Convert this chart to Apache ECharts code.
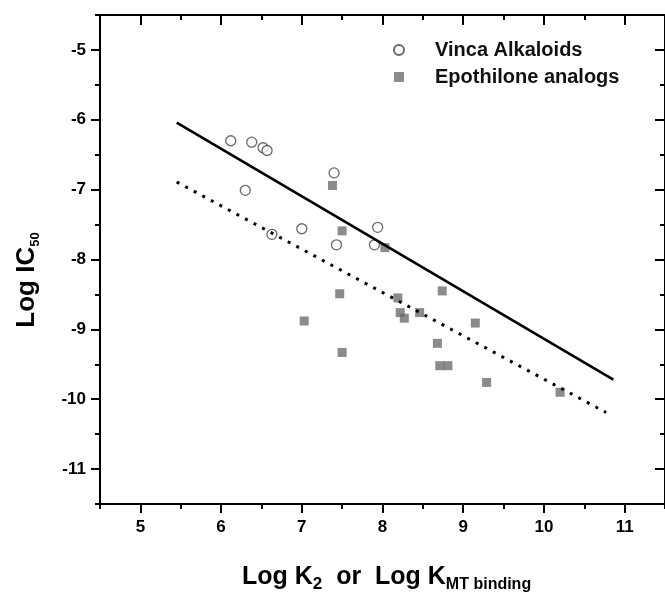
<!DOCTYPE html>
<html>
<head>
<meta charset="utf-8">
<script src="https://cdn.jsdelivr.net/npm/echarts@6/dist/echarts.min.js"></script>
<style>
html,body{margin:0;padding:0;background:#fff;}
#chart{width:665px;height:594px;}
</style>
</head>
<body>
<div id="chart"></div>
<script>
// ---- data ----
var vincaPoints = [
  [6.12,-6.30],[6.38,-6.32],[6.52,-6.40],[6.57,-6.44],[7.40,-6.76],
  [6.30,-7.01],[6.63,-7.64],[7.00,-7.56],[7.43,-7.79],[7.94,-7.54],[7.90,-7.79]
];
var epoPoints = [
  [7.38,-6.94],[7.50,-7.59],[8.03,-7.83],[7.47,-8.49],[8.19,-8.55],[8.74,-8.45],
  [7.03,-8.88],[7.50,-9.33],[8.22,-8.76],[8.27,-8.84],[8.46,-8.76],[9.15,-8.91],
  [8.68,-9.20],[8.71,-9.52],[8.81,-9.52],[9.29,-9.76],[10.20,-9.90]
];
var solidFit = [[5.45,-6.04],[10.86,-9.72]];
var dottedFit = [[5.45,-6.89],[10.77,-10.19]];
var xTickValues = [5,6,7,8,9,10,11];
var xMinorValues = [4.5,5.5,6.5,7.5,8.5,9.5,10.5,11.5];
var yTickValues = [-5,-6,-7,-8,-9,-10,-11];
var yMinorValues = [-4.5,-5.5,-6.5,-7.5,-8.5,-9.5,-10.5,-11.5];
var xRange = [4.5, 11.5];
var yRange = [-11.5, -4.5];
var seriesNames = ['Vinca Alkaloids','Epothilone analogs'];

var FONT = '"Liberation Sans", Arial, Helvetica, sans-serif';
var line = {show:true, onZero:false, lineStyle:{color:'#000', width:2}};

function xAx(pos, major, labels, inside) {
  return {
    type:'value', position:pos, min:xRange[0], max:xRange[1],
    axisLine: major ? line : {show:false},
    splitLine:{show:false},
    axisTick:{show:true, inside:inside, length: major?(inside?10:9):5, customValues: major?xTickValues:xMinorValues,
      lineStyle:{color:'#000', width:2}},
    axisLabel: labels ? {show:true, customValues:xTickValues, margin:15, color:'#000',
      fontFamily:FONT, fontWeight:'bold', fontSize:17} : {show:false}
  };
}
function yAx(pos, major, labels, inside) {
  return {
    type:'value', position:pos, min:yRange[0], max:yRange[1],
    axisLine: major ? line : {show:false},
    splitLine:{show:false},
    axisTick:{show:true, inside:inside, length: major?(inside?10:9):5, customValues: major?yTickValues:yMinorValues,
      lineStyle:{color:'#000', width:2}},
    axisLabel: labels ? {show:true, customValues:yTickValues, margin:14, color:'#000',
      fontFamily:FONT, fontWeight:'bold', fontSize:17} : {show:false}
  };
}

var chart = echarts.init(document.getElementById('chart'), null, {renderer:'canvas'});
chart.setOption({
  animation:false,
  backgroundColor:'#fff',
  grid:{left:100, top:15, width:570, height:489, containLabel:false},
  xAxis:[ xAx('bottom',true,true,false), xAx('bottom',false,false,false),
          xAx('top',true,false,true), xAx('top',false,false,true) ],
  yAxis:[ yAx('left',true,true,false), yAx('left',false,false,false),
          yAx('right',true,false,true), yAx('right',false,false,true) ],
  legend:{
    orient:'vertical', left:388, top:35, itemWidth:10, itemHeight:10, itemGap:7,
    data:seriesNames,
    textStyle:{fontFamily:FONT, fontSize:20, fontWeight:'bold', color:'#111', lineHeight:20, padding:[0,0,0,26]}
  },
  series:[
    {type:'line', data:solidFit, xAxisIndex:0, yAxisIndex:0, symbol:'none', silent:true,
      lineStyle:{color:'#000', width:2.6}},
    {type:'line', data:dottedFit, xAxisIndex:0, yAxisIndex:0, symbol:'none', silent:true,
      lineStyle:{color:'#000', width:3, type:[3,6.7]}},
    {name:seriesNames[0], type:'scatter', data:vincaPoints, xAxisIndex:0, yAxisIndex:0,
      symbol:'circle', symbolSize:10,
      itemStyle:{color:'#fff', borderColor:'#444', borderWidth:1.3}},
    {name:seriesNames[1], type:'scatter', data:epoPoints, xAxisIndex:0, yAxisIndex:0,
      symbol:'rect', symbolSize:9,
      itemStyle:{color:'#6e6e6e'}}
  ],
  graphic:[
    {type:'text', left:242, top:565,
      style:{text:'{a|Log K}{b|2}{a|  or  Log K}{c|MT binding}', fill:'#000',
        rich:{
          a:{fontFamily:FONT, fontWeight:'bold', fontSize:25, lineHeight:30, fill:'#000'},
          b:{fontFamily:FONT, fontWeight:'bold', fontSize:17, lineHeight:4, verticalAlign:'bottom', fill:'#000'},
          c:{fontFamily:FONT, fontWeight:'bold', fontSize:16, lineHeight:4, verticalAlign:'bottom', fill:'#000'}
        }}},
    {type:'text', x:27, y:280, rotation:Math.PI/2,
      style:{text:'{a|Log IC}{b|50}', fill:'#000', align:'center', verticalAlign:'middle',
        rich:{
          a:{fontFamily:FONT, fontWeight:'bold', fontSize:26, lineHeight:30, fill:'#000'},
          b:{fontFamily:FONT, fontWeight:'bold', fontSize:13, lineHeight:4, verticalAlign:'bottom', fill:'#000'}
        }}}
  ]
});
</script>
</body>
</html>
